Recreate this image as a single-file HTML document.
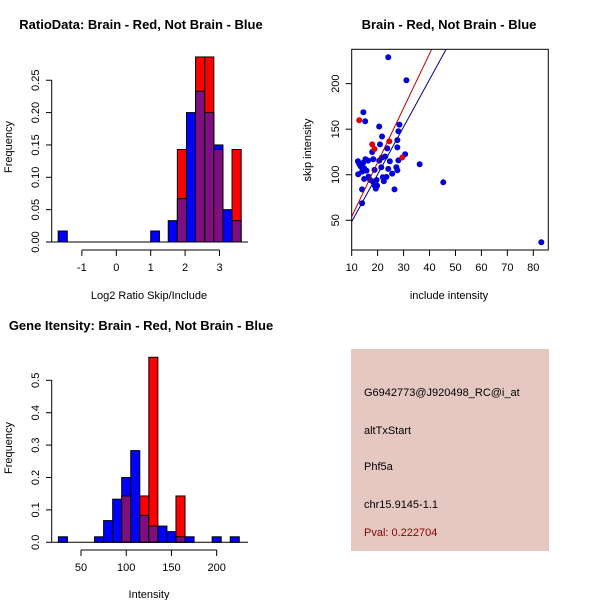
<!DOCTYPE html>
<html><head><meta charset="utf-8"><style>
body{margin:0;background:#fff}
svg{display:block;font-family:"Liberation Sans",sans-serif}
</style></head><body>
<svg id="s" width="600" height="600" viewBox="0 0 600 600">
<text x="141" y="29" text-anchor="middle" font-size="13" font-weight="bold">RatioData: Brain - Red, Not Brain - Blue</text>
<text x="449" y="29" text-anchor="middle" font-size="13" font-weight="bold">Brain - Red, Not Brain - Blue</text>
<text x="141" y="330" text-anchor="middle" font-size="13" font-weight="bold">Gene Itensity: Brain - Red, Not Brain - Blue</text>
<text x="149" y="299" text-anchor="middle" font-size="11">Log2 Ratio Skip/Include</text>
<text x="449" y="299" text-anchor="middle" font-size="11">include intensity</text>
<text x="149" y="598" text-anchor="middle" font-size="11">Intensity</text>
<text transform="translate(12,147) rotate(-90)" text-anchor="middle" font-size="11">Frequency</text>
<text transform="translate(12,448) rotate(-90)" text-anchor="middle" font-size="11">Frequency</text>
<text transform="translate(311,150) rotate(-90)" text-anchor="middle" font-size="11">skip intensity</text>
<rect x="351" y="349" width="198" height="202" fill="#e6c8c2"/>
<text x="364" y="396" font-size="11">G6942773@J920498_RC@i_at</text>
<text x="364" y="434" font-size="11">altTxStart</text>
<text x="364" y="470" font-size="11">Phf5a</text>
<text x="364" y="508" font-size="11">chr15.9145-1.1</text>
<text x="364" y="536" font-size="11" fill="#8b0000">Pval: 0.222704</text>
<g id="g1"></g><g id="g2"></g><g id="g3"></g>
</svg>
<script>
// Ratio histogram
const ratioBreaks = [-1.69,-1.425, 1.0,1.255, 1.51,1.775,2.04,2.305,2.57,2.835,3.1,3.365,3.63];
const ratioBins = [[-1.69,-1.425,0.017,0],[1.0,1.255,0.017,0],[1.51,1.775,0.033,0],[1.775,2.04,0.067,0.143],[2.04,2.305,0.2,0],[2.305,2.57,0.233,0.286],[2.57,2.835,0.2,0.286],[2.835,3.1,0.15,0.143],[3.1,3.365,0.05,0],[3.365,3.63,0.033,0.143]];
const ratioXTicks = [-1,0,1,2,3];
const ratioYTicks = [0,0.05,0.10,0.15,0.20,0.25];
const ratioYLabels = ["0.00","0.05","0.10","0.15","0.20","0.25"];
// Gene intensity histogram
const geneBinsLeft = [25,65,75,85,95,105,115,125,135,145,155,165,195,215];
const geneBlue = [0.017,0.017,0.067,0.133,0.2,0.283,0.083,0.05,0.05,0.033,0.017,0.017,0.017,0.017];
const geneRed = [0,0,0,0,0.143,0,0.143,0.571,0,0,0.143,0,0,0];
const geneXTicks = [50,100,150,200];
const geneYTicks = [0,0.1,0.2,0.3,0.4,0.5];
// Scatter
const blueX = [24.1,31.1,14.5,15.2,20.6,28.4,28.0,21.7,27.6,20.9,27.6,23.7,17.9,30.6,22.9,21.6,18.3,20.6,24.7,28.0,36.2,12.4,12.9,13.5,14.4,15.3,16.3,14.8,15.7,14.0,21.4,27.2,24.1,27.6,18.8,12.5,25.6,23.4,22.0,14.8,16.5,17.1,19.6,18.2,22.4,45.3,18.8,19.8,19.3,14.0,26.5,14.0,83.1];
const blueY = [229,203.7,168.6,158.7,153,155,147.7,142,138,133.4,130,129,125,122.5,120,118.8,117,115.5,114.8,115.8,111.5,114.8,111.8,109,113,117,115.5,107,104.5,103.4,108.2,108.2,106.4,104.9,105.3,100.5,101.2,97.6,97.2,95.4,97.9,94.3,94.3,92.5,92.8,91.7,88.4,88,84.8,84,84,68.7,25.9];
const redX = [12.9,17.9,18.8,24.5,29.5];
const redY = [159.8,133.4,128.3,136.7,119];
const redFit = [-5.6,5.96];
const blueFit = [-3.5,5.2];
const scXTicks = [10,20,30,40,50,60,70,80];
const scYTicks = [50,100,150,200];

const NS="http://www.w3.org/2000/svg";
function mk(parent,tag,attrs){const e=document.createElementNS(NS,tag);for(const k in attrs)e.setAttribute(k,attrs[k]);parent.appendChild(e);return e;}
const PURPLE="#7f0f7f";

// ---- ratio hist
(function(){
 const g=document.getElementById('g1');
 const sx=v=>116.3+v*34.4, sy=v=>242-v*647;
 ratioBins.forEach(b=>{
  const x0=sx(b[0]),w=sx(b[1])-x0,bl=b[2],rd=b[3];
  const draw=(v,c,n)=>{if(v<=0)return;const r=mk(g,'rect',{x:x0,y:sy(v),width:w,height:sy(0)-sy(v),fill:c,stroke:'#000','stroke-width':1});
   
   };
  if(rd>bl){draw(rd,'#f00','ratio-bar-red');draw(bl,PURPLE,'ratio-bar-overlap');}
  else{draw(bl,'#00f','ratio-bar-blue');draw(rd,PURPLE,'ratio-bar-overlap');}
 });
 mk(g,'line',{x1:51.7,x2:51.7,y1:sy(0),y2:sy(0.25),stroke:'#000'});
 mk(g,'line',{x1:51.7,x2:248,y1:242,y2:242,stroke:'#000'});
 ratioYTicks.forEach((v,i)=>{mk(g,'line',{x1:46,x2:51.7,y1:sy(v),y2:sy(v),stroke:'#000'});
  const t=mk(g,'text',{transform:`translate(39,${sy(v)}) rotate(-90)`,'text-anchor':'middle','font-size':11});t.textContent=ratioYLabels[i];
  
  });
 mk(g,'line',{x1:sx(-1),x2:sx(3),y1:250,y2:250,stroke:'#000'});
 ratioXTicks.forEach(v=>{mk(g,'line',{x1:sx(v),x2:sx(v),y1:250,y2:256,stroke:'#000'});
  const t=mk(g,'text',{x:sx(v),y:271,'text-anchor':'middle','font-size':11});t.textContent=v;
  
  });
})();

// ---- gene hist
(function(){
 const g=document.getElementById('g3');
 const sx=v=>81+(v-50)*0.9045, sy=v=>542.3-v*324;
 geneBinsLeft.forEach((l,i)=>{
  const x0=sx(l),w=sx(l+10)-x0,bl=geneBlue[i],rd=geneRed[i];
  const draw=(v,c,n)=>{if(v<=0)return;const r=mk(g,'rect',{x:x0,y:sy(v),width:w,height:sy(0)-sy(v),fill:c,stroke:'#000','stroke-width':1});
   
   };
  if(rd>bl){draw(rd,'#f00','gene-bar-red');draw(bl,PURPLE,'gene-bar-overlap');}
  else{draw(bl,'#00f','gene-bar-blue');draw(rd,PURPLE,'gene-bar-overlap');}
 });
 mk(g,'line',{x1:51.7,x2:51.7,y1:sy(0),y2:sy(0.5),stroke:'#000'});
 mk(g,'line',{x1:51.7,x2:248,y1:542.3,y2:542.3,stroke:'#000'});
 geneYTicks.forEach(v=>{mk(g,'line',{x1:46,x2:51.7,y1:sy(v),y2:sy(v),stroke:'#000'});
  const t=mk(g,'text',{transform:`translate(39,${sy(v)}) rotate(-90)`,'text-anchor':'middle','font-size':11});t.textContent=v.toFixed(1);
  
  });
 mk(g,'line',{x1:sx(50),x2:sx(200),y1:550,y2:550,stroke:'#000'});
 geneXTicks.forEach(v=>{mk(g,'line',{x1:sx(v),x2:sx(v),y1:550,y2:556,stroke:'#000'});
  const t=mk(g,'text',{x:sx(v),y:571,'text-anchor':'middle','font-size':11});t.textContent=v;
  
  });
})();

// ---- scatter
(function(){
 const g=document.getElementById('g2');
 const sx=v=>351.7+(v-10)*2.594, sy=v=>220.3-(v-50)*0.911;
 const L=351.7,R=548.3,T=49.3,B=250;
 const cp=mk(g,'clipPath',{id:'cp'});mk(cp,'rect',{x:L,y:T,width:R-L,height:B-T});
 blueX.forEach((x,i)=>{const c=mk(g,'circle',{cx:sx(x),cy:sy(blueY[i]),r:3,fill:'#0000dd'});
  
  });
 redX.forEach((x,i)=>{const c=mk(g,'circle',{cx:sx(x),cy:sy(redY[i]),r:3,fill:'#dd0000'});
  
  });
 const line=(f,c,n)=>{const x1=5,x2=90;const l=mk(g,'line',{x1:sx(x1),y1:sy(f[0]+f[1]*x1),x2:sx(x2),y2:sy(f[0]+f[1]*x2),stroke:c,'stroke-width':1,'clip-path':'url(#cp)'});
  
  };
 line(redFit,'#c00000','fit-line-brain');
 line(blueFit,'#00008b','fit-line-not-brain');
 mk(g,'rect',{x:L,y:T,width:R-L,height:B-T,fill:'none',stroke:'#000'});
 scXTicks.forEach(v=>{mk(g,'line',{x1:sx(v),x2:sx(v),y1:B,y2:B+6,stroke:'#000'});
  const t=mk(g,'text',{x:sx(v),y:271,'text-anchor':'middle','font-size':11});t.textContent=v;
  
  });
 scYTicks.forEach(v=>{mk(g,'line',{x1:L-6,x2:L,y1:sy(v),y2:sy(v),stroke:'#000'});
  const t=mk(g,'text',{transform:`translate(339,${sy(v)}) rotate(-90)`,'text-anchor':'middle','font-size':11});t.textContent=v;
  
  });
})();
</script>
</body></html>
